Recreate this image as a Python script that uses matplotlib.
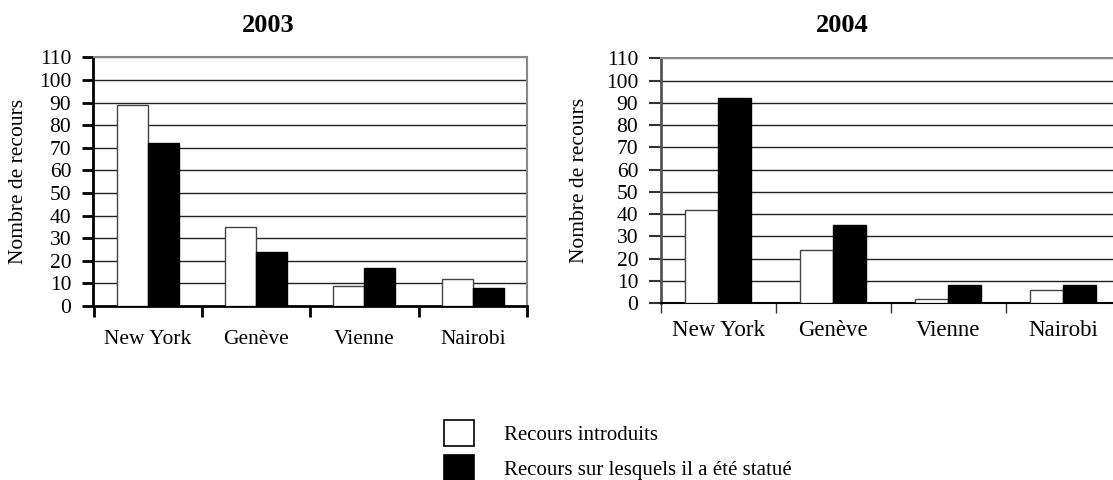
import matplotlib
matplotlib.use("Agg")
import matplotlib.pyplot as plt
import numpy as np

plt.rcParams['font.family'] = ['Liberation Serif', 'DejaVu Serif']

cities = ["New York", "Genève", "Vienne", "Nairobi"]
years = ["2003", "2004"]
introduits = {"2003": [89, 35, 9, 12], "2004": [42, 24, 2, 6]}
statue = {"2003": [72, 24, 17, 8], "2004": [92, 35, 8, 8]}
yticks = list(range(0, 111, 10))
series_labels = ["Recours introduits", "Recours sur lesquels il a été statué"]

W, H = 1113, 480
fig = plt.figure(figsize=(W / 100, H / 100), dpi=100)

# axes rectangles in pixels: (left, right, y0px, y110px)
rects = {
    "2003": (93.5, 527.0, 306.0, 57.3),
    "2004": (660.5, 1120.5, 303.3, 58.3),
}
title_pos = {"2003": (268, 26), "2004": (842, 25)}
ylabel_x = {"2003": 19, "2004": 580}
label_pad = {"2003": 17, "2004": 12}
cat_fs = {"2003": 15.5, "2004": 16.5}

bw = 0.286
handles = None
for yr in years:
    l, r, yb, yt = rects[yr]
    ax = fig.add_axes([l / W, 1 - yb / H, (r - l) / W, (yb - yt) / H])
    x = np.arange(len(cities))
    b1 = ax.bar(x - bw / 2, introduits[yr], bw, color="white", edgecolor="#444444",
                linewidth=1.0, zorder=3)
    b2 = ax.bar(x + bw / 2, statue[yr], bw, color="black", edgecolor="black",
                linewidth=1.0, zorder=3)
    handles = [b1, b2]
    ax.set_xlim(-0.5, 3.5)
    ax.set_ylim(0, 110)
    ax.set_yticks(yticks)
    ax.set_yticklabels([str(v) for v in yticks], fontsize=15.5)
    for v in yticks[1:]:
        ax.axhline(v, color="#222222" if v < 110 else "#888888", lw=1.0, zorder=1)
    # category boundary ticks
    ax.set_xticks(np.arange(-0.5, 4.0, 1.0))
    ax.set_xticklabels([])
    ax.set_xticks(x, minor=True)
    ax.set_xticklabels(cities, minor=True, fontsize=cat_fs[yr])
    ax.tick_params(axis="x", which="minor", length=0, pad=label_pad[yr])
    if yr == "2003":
        ax.tick_params(axis="x", which="major", length=8, width=2, color="black", direction="out")
        ax.spines["bottom"].set_linewidth(2)
        ax.spines["left"].set_linewidth(2)
        ax.spines["left"].set_color("black")
        ax.spines["top"].set_color("#888888")
        ax.spines["right"].set_color("#888888")
        ax.spines["top"].set_linewidth(1.5)
        ax.spines["right"].set_linewidth(1.5)
        ax.tick_params(axis="y", length=8, width=2, pad=8)
    else:
        ax.tick_params(axis="x", which="major", length=7, width=1, color="#333333", direction="out")
        ax.spines["bottom"].set_linewidth(1.5)
        ax.spines["left"].set_linewidth(2)
        ax.spines["left"].set_color("#555555")
        ax.spines["top"].set_color("#888888")
        ax.spines["top"].set_linewidth(1.5)
        ax.spines["right"].set_visible(False)
        ax.tick_params(axis="y", length=9, width=1.5, color="#333333", pad=7)
    fig.text(ylabel_x[yr] / W, 1 - ((yb + yt) / 2) / H, "Nombre de recours",
             rotation=90, ha="center", va="center", fontsize=15.5)
    tx, ty = title_pos[yr]
    fig.text(tx / W, 1 - ty / H, yr, ha="center", va="center", fontsize=19,
             fontweight="bold")

leg = fig.legend(handles, series_labels, loc="upper left",
                 bbox_to_anchor=(444 / W, 1 - 420 / H), frameon=False,
                 fontsize=15, handlelength=1.44, handleheight=1.56,
                 handletextpad=1.45, labelspacing=0.42, borderpad=0,
                 borderaxespad=0)
for h in leg.legend_handles:
    h.set_linewidth(1.2)
leg.legend_handles[0].set_edgecolor("black")

fig.savefig("out.png", dpi=100)
